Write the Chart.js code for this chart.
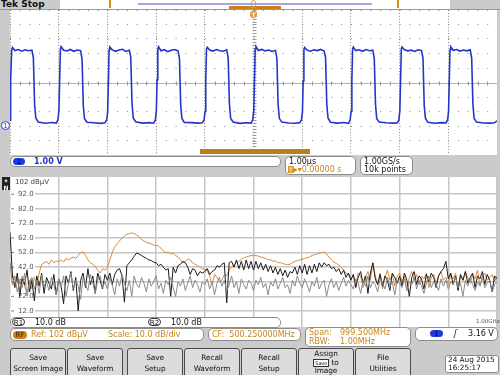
<!DOCTYPE html>
<html>
<head>
<meta charset="utf-8">
<script src="https://cdn.jsdelivr.net/npm/chart.js@4"></script>
<style>
body { margin: 0; background: #cbcbcb; }
#screen { position: relative; width: 500px; height: 375px; overflow: hidden; background: #cbcbcb;
  font-family: "DejaVu Sans", sans-serif; font-size: 8px; color: #111; }
.abs { position: absolute; white-space: pre; }
.box { position: absolute; background: #fff; border: 1px solid #8c8c8c; border-radius: 5px; box-sizing: border-box; white-space: pre; line-height: 9px; }
.btn { position: absolute; top: 348px; height: 32px; width: 56px; box-sizing: border-box; border: 1px solid #4a4a4a;
  border-radius: 3px; background: #dcdcdc; text-align: center; line-height: 11px; padding-top: 3px;
  font-size: 7.4px; white-space: nowrap; letter-spacing: -0.1px; }
.org { color: #c8861e; }
.pill { position: absolute; border-radius: 6px; text-align: center; line-height: 8px; font-size: 7px; }
canvas { position: absolute; background: #fff; }
</style>
</head>
<body>
<div id="screen">
  <!-- top status bar -->
  <div class="abs" style="left:1px;top:-1px;font-weight:bold;font-size:9px;">Tek Stop</div>
  <div class="abs" style="left:60px;top:0;width:390px;height:9px;background:#fff;"></div>
  <div class="abs" style="left:138px;top:3px;width:234px;height:2px;background:#a4a4e6;"></div>
  <div class="abs" style="left:109px;top:0;width:2px;height:8px;background:#d88a1a;"></div>
  <div class="abs" style="left:397px;top:0;width:2px;height:8px;background:#d88a1a;"></div>
  <div class="abs" style="left:229px;top:6px;width:52px;height:3px;background:#c8841a;"></div>
  <div class="abs" style="left:251px;top:0;width:5px;height:8px;border:1px solid #e09a2a;border-radius:3px;box-sizing:border-box;"></div>
  <div class="abs" style="left:0;top:9px;width:500px;height:1px;background:#9a9a9a;"></div>

  <!-- time domain -->
  <canvas id="scope" width="487" height="145" style="left:10px;top:10px;"></canvas>
  <div class="abs" style="left:250px;top:11px;width:7px;height:7px;background:#e09a2a;border-radius:3px 3px 4px 4px;color:#fff;font-size:6px;line-height:7px;text-align:center;font-weight:bold;">T</div>
  <div class="abs" style="left:200px;top:149px;width:110px;height:5px;background:#b98018;"></div>
  <div class="pill" style="left:1px;top:121px;width:9px;height:9px;border:1px solid #2a3fd0;background:#fff;color:#2a3fd0;box-sizing:border-box;border-radius:5px;">1</div>

  <!-- channel / timebase readouts -->
  <div class="box" style="left:10px;top:156px;width:271px;height:11px;">
    <div class="pill" style="left:2px;top:1px;width:12px;height:7px;background:#1f3be0;color:#00006a;">1</div>
    <div class="abs" style="left:23px;top:0;color:#2233cc;font-weight:bold;">1.00 V</div>
  </div>
  <div class="box" style="left:285px;top:156px;width:71px;height:19px;">
    <div class="abs" style="left:3px;top:0;">1.00µs</div>
    <div class="abs org" style="left:2px;top:8px;"><span style="background:#e09a2a;color:#fff;font-size:6px;padding:0 1px;">T</span>▸▾0.00000 s</div>
  </div>
  <div class="box" style="left:360px;top:156px;width:53px;height:19px;">
    <div class="abs" style="left:3px;top:0;">1.00GS/s</div>
    <div class="abs" style="left:3px;top:8px;">10k points</div>
  </div>

  <!-- spectrum -->
  <div class="abs" style="left:2px;top:177px;width:8px;height:13px;background:#222;color:#fff;font-size:6px;line-height:7px;text-align:center;font-weight:bold;">✦
N</div>
  <canvas id="spectrum" width="487" height="150" style="left:10px;top:177px;"></canvas>
  <div class="abs" style="left:476px;top:318px;font-size:5.5px;color:#555;">1.00GHz</div>

  <div class="box" style="left:10px;top:317px;width:271px;height:11px;">
    <div class="pill" style="left:1px;top:0;width:13px;height:8px;border:1px solid #333;box-sizing:border-box;">R1</div>
    <div class="abs" style="left:24px;top:0;">10.0 dB</div>
    <div class="pill" style="left:137px;top:0;width:13px;height:8px;border:1px solid #333;box-sizing:border-box;">R2</div>
    <div class="abs" style="left:160px;top:0;">10.0 dB</div>
  </div>
  <div class="box" style="left:10px;top:328px;width:194px;height:13px;">
    <div class="pill" style="left:2px;top:2px;width:14px;height:8px;background:#c8841a;color:#3a2400;">RF</div>
    <div class="abs org" style="left:20px;top:1px;">Ref: 102 dBµV</div>
    <div class="abs org" style="left:97px;top:1px;">Scale: 10.0 dB/div</div>
  </div>
  <div class="box" style="left:208px;top:328px;width:93px;height:13px;">
    <div class="abs org" style="left:3px;top:1px;">CF:  500.250000MHz</div>
  </div>
  <div class="box" style="left:305px;top:327px;width:106px;height:20px;">
    <div class="abs org" style="left:3px;top:0;">Span:</div>
    <div class="abs org" style="left:34px;top:0;">999.500MHz</div>
    <div class="abs org" style="left:3px;top:9px;">RBW:</div>
    <div class="abs org" style="left:34px;top:9px;">1.00MHz</div>
  </div>
  <div class="box" style="left:415px;top:327px;width:83px;height:14px;">
    <div class="pill" style="left:14px;top:2px;width:13px;height:7px;background:#1f3be0;color:#00006a;">1</div>
    <div class="abs" style="left:38px;top:1px;font-style:italic;">ʃ</div>
    <div class="abs" style="left:52px;top:1px;">3.16 V</div>
  </div>

  <!-- menu buttons -->
  <div class="btn" style="left:10px;">Save<br>Screen Image</div>
  <div class="btn" style="left:67px;">Save<br>Waveform</div>
  <div class="btn" style="left:127px;">Save<br>Setup</div>
  <div class="btn" style="left:184px;">Recall<br>Waveform</div>
  <div class="btn" style="left:241px;">Recall<br>Setup</div>
  <div class="btn" style="left:298px;line-height:8.5px;padding-top:1px;">Assign<br><span style="font-size:5px;border:1px solid #333;background:#fff;padding:0 1px;">Save</span> to<br>Image</div>
  <div class="btn" style="left:355px;">File<br>Utilities</div>
  <div class="box" style="left:445px;top:355px;width:54px;height:18px;border-radius:3px;font-size:7.3px;line-height:8px;">
    <div class="abs" style="left:2px;top:0;">24 Aug 2015</div>
    <div class="abs" style="left:2px;top:8px;">16:25:17</div>
  </div>
</div>

<script>
// channel 1 square wave, time in µs, volts
const waveTime = [
  -5.05, -5.015, -4.995, -4.98, -4.965, -4.95, -4.9, -4.83, -4.76, -4.69, -4.62, -4.55, -4.52, -4.495, -4.47, -4.42, -4.28, -4.14,
  -4.05, -4.015, -3.995, -3.98, -3.965, -3.95, -3.9, -3.83, -3.76, -3.69, -3.62, -3.55, -3.52, -3.495, -3.47, -3.42, -3.28, -3.14,
  -3.05, -3.015, -2.995, -2.98, -2.965, -2.95, -2.9, -2.83, -2.76, -2.69, -2.62, -2.55, -2.52, -2.495, -2.47, -2.42, -2.28, -2.14,
  -2.05, -2.015, -1.995, -1.98, -1.965, -1.95, -1.9, -1.83, -1.76, -1.69, -1.62, -1.55, -1.52, -1.495, -1.47, -1.42, -1.28, -1.14,
  -1.05, -1.015, -0.995, -0.98, -0.965, -0.95, -0.9, -0.83, -0.76, -0.69, -0.62, -0.55, -0.52, -0.495, -0.47, -0.42, -0.28, -0.14,
  -0.05, -0.015, 0.005, 0.02, 0.035, 0.05, 0.1, 0.17, 0.24, 0.31, 0.38, 0.45, 0.48, 0.505, 0.53, 0.58, 0.72, 0.86,
  0.95, 0.985, 1.005, 1.02, 1.035, 1.05, 1.1, 1.17, 1.24, 1.31, 1.38, 1.45, 1.48, 1.505, 1.53, 1.58, 1.72, 1.86,
  1.95, 1.985, 2.005, 2.02, 2.035, 2.05, 2.1, 2.17, 2.24, 2.31, 2.38, 2.45, 2.48, 2.505, 2.53, 2.58, 2.72, 2.86,
  2.95, 2.985, 3.005, 3.02, 3.035, 3.05, 3.1, 3.17, 3.24, 3.31, 3.38, 3.45, 3.48, 3.505, 3.53, 3.58, 3.72, 3.86,
  3.95, 3.985, 4.005, 4.02, 4.035, 4.05, 4.1, 4.17, 4.24, 4.31, 4.38, 4.45, 4.48, 4.505, 4.53, 4.58, 4.72, 4.86,
  4.95, 5.0
];
const waveVolt = [
  0.21, 0.4, 1.0, 3.1, 5.25, 5.42, 5.2, 5.27, 5.16, 5.25, 5.19, 5.23, 4.7, 1.5, 0.55, 0.27, 0.19, 0.24,
  0.2, 0.43, 1.1, 3.3, 5.3, 5.47, 5.22, 5.18, 5.28, 5.15, 5.24, 5.2, 4.6, 1.4, 0.5, 0.26, 0.22, 0.18,
  0.23, 0.41, 0.95, 3.0, 5.28, 5.44, 5.25, 5.15, 5.24, 5.29, 5.14, 5.22, 4.75, 1.6, 0.56, 0.29, 0.2, 0.23,
  0.19, 0.42, 1.05, 3.2, 5.27, 5.46, 5.19, 5.26, 5.13, 5.22, 5.27, 5.18, 4.65, 1.45, 0.52, 0.25, 0.23, 0.2,
  0.22, 0.4, 1.0, 3.15, 5.3, 5.43, 5.24, 5.17, 5.27, 5.19, 5.16, 5.25, 4.7, 1.55, 0.54, 0.28, 0.18, 0.22,
  0.2, 0.44, 1.08, 3.25, 5.32, 5.48, 5.21, 5.28, 5.18, 5.24, 5.14, 5.21, 4.68, 1.5, 0.53, 0.27, 0.21, 0.19,
  0.23, 0.41, 0.98, 3.1, 5.26, 5.41, 5.23, 5.16, 5.25, 5.2, 5.28, 5.17, 4.72, 1.48, 0.55, 0.26, 0.2, 0.24,
  0.19, 0.43, 1.02, 3.2, 5.29, 5.45, 5.2, 5.26, 5.15, 5.27, 5.19, 5.23, 4.66, 1.52, 0.51, 0.28, 0.22, 0.2,
  0.21, 0.4, 1.06, 3.18, 5.31, 5.44, 5.25, 5.18, 5.23, 5.14, 5.26, 5.2, 4.7, 1.46, 0.54, 0.25, 0.19, 0.23,
  0.22, 0.42, 1.0, 3.12, 5.27, 5.46, 5.22, 5.27, 5.17, 5.24, 5.18, 5.25, 4.69, 1.53, 0.52, 0.27, 0.21, 0.2,
  0.22, 0.36
];

// RF spectrum, 0..1000 MHz sampled every 5 MHz, dBµV
const freqStepMHz = 5;
const specOrange = [
  45, 38, 30, 34, 26, 36, 29, 24, 33, 27, 35, 30, 38, 44, 45, 46, 44, 47, 45, 46,
  46, 47, 45.5, 48, 47, 48, 49, 48, 50, 52, 52.5, 50, 47, 45, 44, 42.5, 40, 38, 41, 40,
  42, 47, 52, 56, 58, 60, 62, 63.5, 64.5, 65, 65.4, 65, 64, 63, 61, 60, 59, 58.5, 58, 57,
  57, 56.5, 55, 53, 52, 52.3, 51, 51.5, 50, 49, 47, 45, 46, 47.5, 47, 45, 44, 43, 42, 41,
  40.5, 40, 36, 30, 37, 35, 32, 33, 37, 36, 40, 42, 43.5, 45, 46, 47.5, 48.5, 49, 49.5, 50,
  50.3, 50, 49.5, 49, 48.5, 48, 47, 47.2, 46, 46.3, 45, 45.2, 44.5, 44, 43.7, 44, 45, 46, 46.5, 47,
  47.5, 48, 48.5, 49, 50, 50.5, 51, 51.5, 52, 52.4, 51, 49, 47, 45.5, 44.5, 43.5, 42, 40, 38, 37,
  34, 37, 30, 38, 36, 28, 35, 39, 33, 45, 36, 31, 38, 27, 35, 40, 33, 37, 29, 36,
  38, 32, 36, 26, 35, 39, 33, 37, 30, 36, 34, 38, 28, 35, 37, 31, 36, 39, 33, 35,
  30, 37, 34, 38, 27, 36, 33, 39, 35, 31, 37, 34, 40, 29, 36, 38, 33, 35, 37, 32, 36
];
const specBlack = [
  66, 36, 28, 38, 22, 34, 30, 40, 25, 33, 19, 36, 29, 38, 24, 35, 31, 27, 37, 23,
  34, 29, 17, 36, 31, 39, 26, 35, 12, 33, 38, 28, 41, 30, 36, 24, 38, 33, 27, 37,
  33, 38, 30, 37, 40, 41, 36, 18, 43, 45, 47, 49.5, 51.7, 51, 50, 49, 48, 47, 46.5, 45.5,
  45, 43, 44, 42, 40, 41, 22, 42, 38, 43, 44, 46, 45, 42, 37, 41, 40, 36, 39, 38,
  39, 41, 37, 39, 40, 43, 42, 44, 45, 17.5, 45, 46, 42, 47, 41, 46, 40, 47, 41, 46,
  40, 46, 41, 45, 40, 44, 39, 43, 38, 42, 37, 41, 36, 40, 35, 39, 38, 42, 37, 43,
  38, 44, 37, 43, 38, 44, 39, 45, 42, 45, 43, 44, 41, 42, 39, 41, 37, 40, 35, 38,
  33, 37, 28, 35, 39, 31, 36, 24, 38, 45, 34, 30, 37, 29, 36, 33, 26, 38, 35, 31,
  36, 29, 38, 33, 22, 35, 39, 30, 36, 34, 27, 37, 32, 38, 35, 28, 36, 39, 41, 46,
  34, 38, 30, 36, 26, 37, 33, 39, 31, 35, 38, 28, 36, 34, 39, 30, 37, 33, 25, 36, 34
];
const specGray = [
  45, 30, 36, 25, 33, 28, 38, 22, 31, 35, 27, 33, 24, 37, 29, 32, 26, 35, 30, 23,
  34, 28, 36, 22, 31, 38, 27, 33, 29, 20, 35, 30, 26, 37, 31, 24, 33, 36, 28, 32,
  27, 35, 30, 23, 34, 29, 37, 31, 26, 33, 22, 36, 30, 28, 35, 31, 25, 34, 29, 32,
  36, 27, 31, 24, 33, 30, 35, 28, 22, 32, 29, 34, 26, 31, 36, 28, 33, 30, 25, 32,
  30, 34, 27, 32, 23, 31, 35, 29, 33, 26, 30, 36, 28, 32, 24, 34, 30, 27, 33, 31,
  26, 33, 30, 35, 28, 31, 23, 32, 29, 34, 27, 31, 35, 28, 30, 24, 33, 29, 36, 31,
  28, 34, 30, 25, 32, 29, 35, 27, 31, 33, 22, 30, 34, 28, 32, 26, 31, 35, 29, 33,
  30, 27, 34, 31, 24, 33, 29, 36, 28, 32, 30, 25, 34, 31, 27, 35, 29, 32, 23, 33,
  31, 28, 34, 26, 32, 30, 35, 27, 33, 29, 24, 31, 36, 28, 32, 30, 26, 34, 29, 33,
  27, 32, 30, 35, 28, 31, 22, 33, 29, 34, 30, 26, 32, 29, 35, 28, 31, 33, 25, 30, 32
];
const specGridDb = [12, 22, 32, 42, 52, 62, 72, 82, 92];
const specLabels = ['12.0', '22.0', '32.0', '42.0', '52.0', '62.0', '72.0', '82.0', '92.0'];

Chart.defaults.font.family = '"DejaVu Sans", sans-serif';

const noAxisSize = {
  x: s => { s.height = 0; },
  y: s => { s.width = 0; }
};

// dotted graticule with tick marks on the centre lines
const centreLines = {
  id: 'centreLines',
  beforeDatasetsDraw(chart) {
    const { ctx, chartArea: a, scales: { x, y } } = chart;
    const cy = Math.round(y.getPixelForValue(3)) + 0.5;
    const cx = Math.round(x.getPixelForValue(0)) + 0.5;
    ctx.save();
    ctx.strokeStyle = '#b4b4b4';
    ctx.lineWidth = 1;
    ctx.beginPath();
    ctx.moveTo(a.left, cy); ctx.lineTo(a.right, cy);
    ctx.stroke();
    ctx.strokeStyle = '#9a9a9a';
    ctx.beginPath();
    for (let t = -5; t <= 5.001; t += 0.2) {
      const px = Math.round(x.getPixelForValue(t)) + 0.5;
      ctx.moveTo(px, cy - 2); ctx.lineTo(px, cy + 2);
    }
    for (let v = -2; v <= 8.001; v += 0.2) {
      const py = Math.round(y.getPixelForValue(v)) + 0.5;
      ctx.moveTo(cx - 2, py); ctx.lineTo(cx + 2, py);
    }
    ctx.stroke();
    ctx.restore();
  }
};

new Chart(document.getElementById('scope'), {
  type: 'line',
  data: {
    datasets: [{
      data: waveTime.map((t, i) => ({ x: t, y: waveVolt[i] })),
      borderColor: '#2436c8',
      borderWidth: 1.6,
      pointRadius: 0,
      tension: 0
    }]
  },
  options: {
    responsive: false,
    animation: false,
    events: [],
    layout: { padding: 0 },
    plugins: { legend: { display: false }, tooltip: { enabled: false } },
    scales: {
      x: {
        type: 'linear', min: -5, max: 5,
        afterFit: noAxisSize.x,
        ticks: { display: false, stepSize: 1 },
        grid: { color: '#8a8a8a', lineWidth: 1, drawTicks: false },
        border: { display: false, dash: [1, 1.9] }
      },
      y: {
        min: -2, max: 8,
        afterFit: noAxisSize.y,
        ticks: { display: false, stepSize: 1 },
        grid: { color: '#8a8a8a', lineWidth: 1, drawTicks: false },
        border: { display: false, dash: [1, 8.74] }
      }
    }
  },
  plugins: [centreLines]
});

// dB labels sit inside the grid, under the traces
const dbLabels = {
  id: 'dbLabels',
  beforeDatasetsDraw(chart) {
    const { ctx, chartArea: a, scales: { y } } = chart;
    ctx.save();
    ctx.font = '7px "DejaVu Sans", sans-serif';
    ctx.textBaseline = 'middle';
    specGridDb.forEach((v, i) => {
      const py = y.getPixelForValue(v);
      ctx.fillStyle = '#fff';
      ctx.fillRect(a.left, py - 2, 25, 4);
      ctx.fillStyle = '#777';
      ctx.fillRect(a.left + 1, py - 0.5, 3, 1);
      ctx.fillStyle = '#555';
      ctx.fillText(specLabels[i], a.left + 8, py);
    });
    ctx.fillStyle = '#444';
    ctx.fillText('102 dBµV', a.left + 5, y.getPixelForValue(102) + 3);
    ctx.restore();
  }
};

const freqs = specBlack.map((_, i) => i * freqStepMHz);
const trace = (vals, color) => ({
  data: vals.map((v, i) => ({ x: freqs[i], y: v })),
  borderColor: color,
  borderWidth: 1,
  pointRadius: 0,
  tension: 0
});

new Chart(document.getElementById('spectrum'), {
  type: 'line',
  data: {
    datasets: [
      trace(specGray, '#8a8a8a'),
      trace(specBlack, '#1c1c1c'),
      trace(specOrange, '#d98a3d')
    ]
  },
  options: {
    responsive: false,
    animation: false,
    events: [],
    layout: { padding: 0 },
    plugins: { legend: { display: false }, tooltip: { enabled: false } },
    scales: {
      x: {
        type: 'linear', min: 0, max: 1000,
        afterFit: noAxisSize.x,
        ticks: { display: false, stepSize: 100 },
        grid: { color: '#c6c6c6', lineWidth: 1.5, drawTicks: false },
        border: { display: false }
      },
      y: {
        min: 1, max: 103.8,
        afterFit: noAxisSize.y,
        afterBuildTicks: s => { s.ticks = specGridDb.map(v => ({ value: v })); },
        ticks: { display: false },
        grid: { color: '#c6c6c6', lineWidth: 1.5, drawTicks: false },
        border: { display: false }
      }
    }
  },
  plugins: [dbLabels]
});
</script>
</body>
</html>
